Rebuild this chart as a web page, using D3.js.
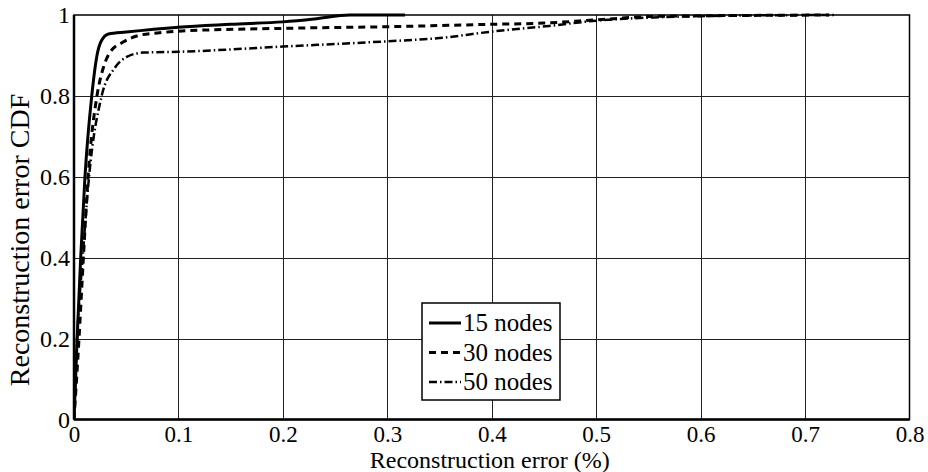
<!DOCTYPE html>
<html>
<head>
<meta charset="utf-8">
<script src="https://cdn.jsdelivr.net/npm/d3@7"></script>
<style>
  html, body { margin: 0; padding: 0; background: #fff; }
  svg { display: block; }
  svg text { font-family: "Liberation Serif", "Times New Roman", serif !important; fill: #000; }
</style>
</head>
<body>
<svg id="chart" width="928" height="472" font-family="Liberation Serif"></svg>
<script>
// ---- data ----
const xTicks = [0, 0.1, 0.2, 0.3, 0.4, 0.5, 0.6, 0.7, 0.8];
const yTicks = [0, 0.2, 0.4, 0.6, 0.8, 1];
const xTickLabels = ["0", "0.1", "0.2", "0.3", "0.4", "0.5", "0.6", "0.7", "0.8"];
const yTickLabels = ["0", "0.2", "0.4", "0.6", "0.8", "1"];
const seriesNames = ["15 nodes", "30 nodes", "50 nodes"];

const errors15 = [0, 0.003, 0.0064, 0.0105, 0.017, 0.022, 0.026, 0.033, 0.05, 0.1, 0.15, 0.2, 0.23, 0.264, 0.317];
const cdf15    = [0, 0.2, 0.4, 0.6, 0.8, 0.9, 0.935, 0.953, 0.958, 0.97, 0.977, 0.983, 0.99, 1.0, 1.0];

const errors30 = [0, 0.0048, 0.009, 0.0135, 0.022, 0.028, 0.034, 0.047, 0.063, 0.082, 0.1, 0.2, 0.3, 0.4, 0.45, 0.5, 0.55, 0.6, 0.65, 0.723];
const cdf30    = [0, 0.2, 0.4, 0.6, 0.8, 0.869, 0.906, 0.933, 0.95, 0.956, 0.96, 0.967, 0.971, 0.977, 0.98, 0.988, 0.996, 0.998, 0.999, 1.0];

const errors50 = [0, 0.003, 0.0083, 0.0144, 0.0265, 0.039, 0.051, 0.066, 0.1, 0.2, 0.3, 0.35, 0.4, 0.455, 0.5, 0.555, 0.6, 0.65, 0.73];
const cdf50    = [0, 0.2, 0.4, 0.6, 0.8, 0.869, 0.897, 0.907, 0.909, 0.922, 0.935, 0.943, 0.959, 0.973, 0.986, 0.994, 0.997, 0.999, 1.0];

// ---- layout ----
const FONT = "Liberation Serif";
const svg = d3.select("#chart");
const L = 74, R = 909.5, T = 15, B = 419.5;
const x = d3.scaleLinear().domain([0, 0.8]).range([L, R]);
const y = d3.scaleLinear().domain([0, 1]).range([B, T]);

// grid
svg.append("g").selectAll("line").data(xTicks.slice(1, -1)).join("line")
  .attr("x1", d => Math.round(x(d)) + 0.5).attr("x2", d => Math.round(x(d)) + 0.5)
  .attr("y1", T).attr("y2", B)
  .attr("stroke", "#222").attr("stroke-width", 1);
svg.append("g").selectAll("line").data(yTicks.slice(1, -1)).join("line")
  .attr("y1", d => Math.round(y(d)) + 0.5).attr("y2", d => Math.round(y(d)) + 0.5)
  .attr("x1", L).attr("x2", R)
  .attr("stroke", "#222").attr("stroke-width", 1);

// axes (labels only, no tick marks)
const xAxis = d3.axisBottom(x).tickValues(xTicks).tickFormat((d, i) => xTickLabels[i]).tickSize(0).tickPadding(6);
const gx = svg.append("g").attr("transform", `translate(0,${B})`).call(xAxis)
  .attr("font-family", FONT).attr("font-size", 23);
gx.select(".domain").remove();
gx.selectAll("text").attr("fill", "#000");

const yAxis = d3.axisLeft(y).tickValues(yTicks).tickFormat((d, i) => yTickLabels[i]).tickSize(0).tickPadding(4);
const gy = svg.append("g").attr("transform", `translate(${L},0)`).call(yAxis)
  .attr("font-family", FONT).attr("font-size", 24);
gy.select(".domain").remove();
gy.selectAll("text").attr("fill", "#000");

// series lines
const line = d3.line().x(d => x(d[0])).y(d => y(d[1])).curve(d3.curveMonotoneX);
const styles = [
  { w: 3, dash: null },
  { w: 3, dash: "7,5" },
  { w: 2.5, dash: "8,3,1.5,3" }
];
const series = [
  d3.zip(errors15, cdf15),
  d3.zip(errors30, cdf30),
  d3.zip(errors50, cdf50)
];
svg.append("clipPath").attr("id", "clip").append("rect")
  .attr("x", L).attr("y", T - 2).attr("width", R - L).attr("height", B - T + 2);
svg.append("g").attr("clip-path", "url(#clip)").selectAll("path").data(series).join("path")
  .attr("d", line)
  .attr("fill", "none").attr("stroke", "#000")
  .attr("stroke-width", (d, i) => styles[i].w)
  .attr("stroke-dasharray", (d, i) => styles[i].dash)
  .attr("stroke-linejoin", "round");

// frame
svg.append("rect").attr("x", L).attr("y", T).attr("width", R - L).attr("height", B - T)
  .attr("fill", "none").attr("stroke", "#000").attr("stroke-width", 1.5);
svg.append("line").attr("x1", L).attr("x2", R).attr("y1", B).attr("y2", B)
  .attr("stroke", "#000").attr("stroke-width", 2.5);
svg.append("line").attr("x1", L).attr("x2", L).attr("y1", T).attr("y2", B)
  .attr("stroke", "#000").attr("stroke-width", 2.5);

// axis titles
svg.append("text").attr("x", (L + R) / 2 - 2).attr("y", 468).attr("text-anchor", "middle")
  .attr("font-family", FONT).attr("font-size", 24).text("Reconstruction error (%)");
svg.append("text").attr("transform", `translate(29,240) rotate(-90)`).attr("text-anchor", "middle")
  .attr("font-family", FONT).attr("font-size", 28).text("Reconstruction error CDF");

// legend
const lg = svg.append("g");
lg.append("rect").attr("x", 422).attr("y", 303).attr("width", 138).attr("height", 97)
  .attr("fill", "#fff").attr("stroke", "#000").attr("stroke-width", 1.5);
const rows = lg.selectAll("g.row").data(seriesNames).join("g").attr("class", "row")
  .attr("transform", (d, i) => `translate(0,${323 + i * 29.5})`);
rows.append("line").attr("x1", 429).attr("x2", 461).attr("y1", 0).attr("y2", 0)
  .attr("stroke", "#000")
  .attr("stroke-width", (d, i) => styles[i].w)
  .attr("stroke-dasharray", (d, i) => styles[i].dash);
rows.append("text").attr("x", 463).attr("y", 8).attr("font-family", FONT).attr("font-size", 25).text(d => d);
</script>
</body>
</html>
